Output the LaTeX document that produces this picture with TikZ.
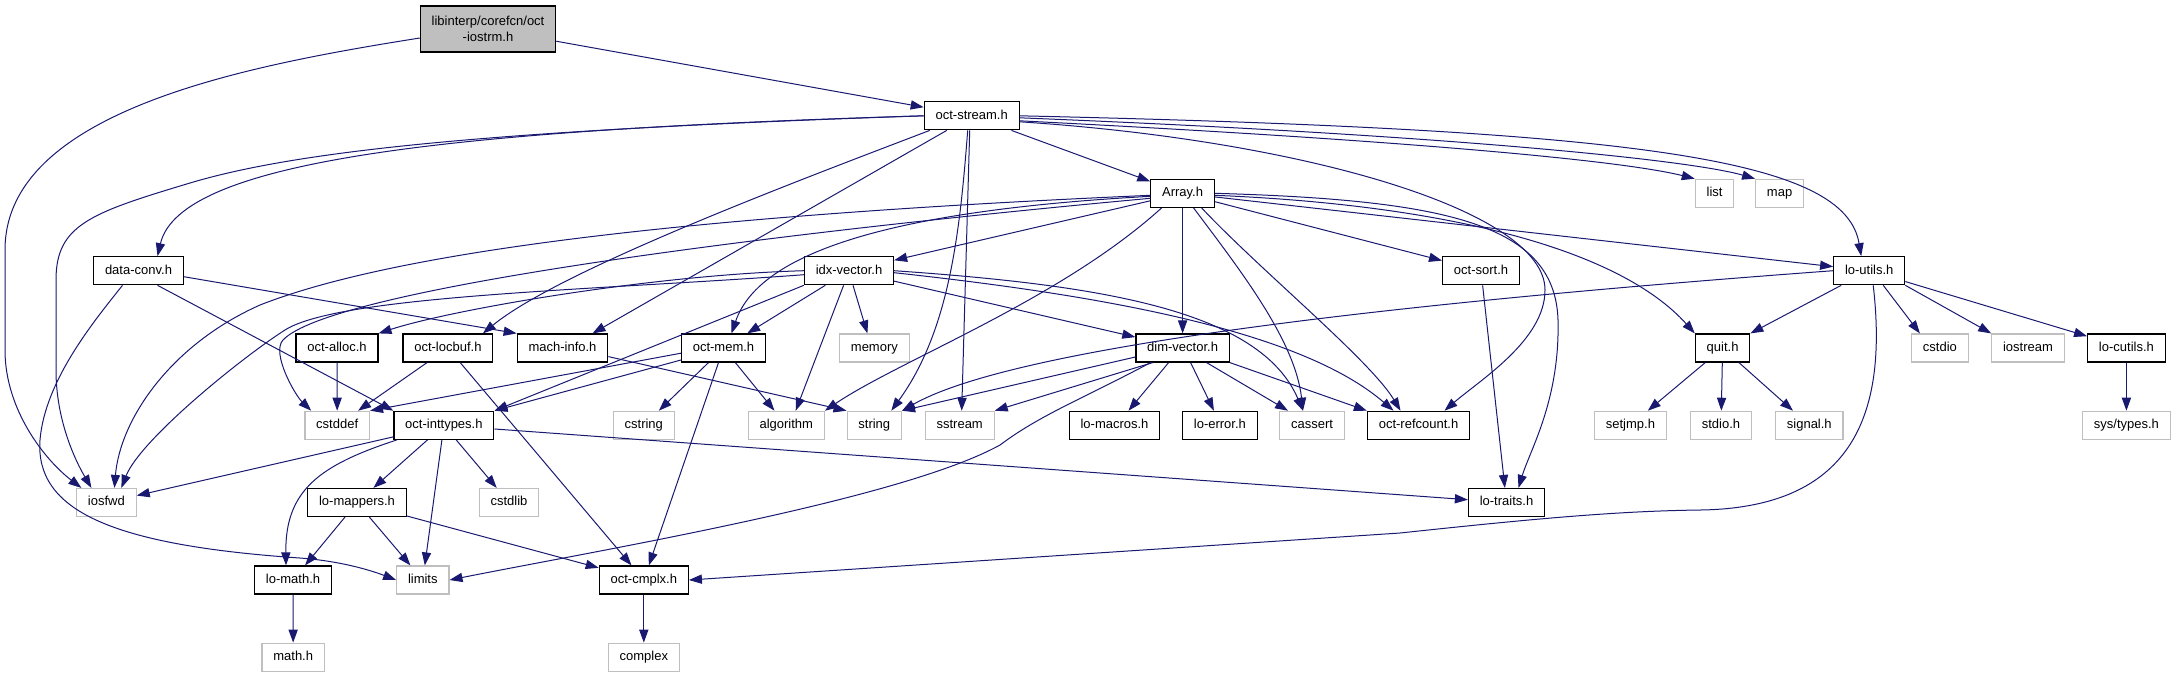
\documentclass[tikz,border=0pt]{standalone}
\usepackage{fontspec}
\setmainfont{Liberation Sans}
\usepackage{tikz}
\usetikzlibrary{arrows.meta}
\usepackage{xcolor}
\definecolor{edgeblue}{RGB}{25,25,112}
\definecolor{nodocgrey}{RGB}{191,191,191}
\tikzset{
    common/.style={rectangle, fill=white, line width=0.6pt, inner xsep=5.65pt, inner ysep=0pt, font=\fontsize{6.5}{7.8}\selectfont},
    header/.style={common, draw=black, minimum height=14pt, text height=4.8pt, text depth=1.4pt},
    sysheader/.style={header, draw=nodocgrey},
    mainheader/.style={common, draw=black, fill=nodocgrey, align=center, minimum height=23pt},
    dep/.style={->, edgeblue, line width=0.5pt},
}

\begin{document}
\begin{tikzpicture}[x=0.5pt, y=-0.5pt, >={Triangle[length=6.5pt, width=4.6pt]}]
            \useasboundingbox (0,0) rectangle (2177,677);

            \path
                (0,29) +(488,0) node[mainheader] (oct-iostrm) {libinterp/corefcn/oct\\-iostrm.h};
            \path
                (0,115.8) +(971.7,0) node[header] (oct-stream) {oct-stream.h};
            \path
                (0,193.3)
                +(1182.6,0) node[header] (array) {Array.h}
                +(1714.6,0) node[sysheader] (list) {list}
                +(1779.6,0) node[sysheader] (map) {map};
            \path
                (0,270.7)
                +(138.5,0) node[header] (data-conv) {data-conv.h}
                +(849,0) node[header] (idx-vector) {idx-vector.h}
                +(1481,0) node[header] (oct-sort) {oct-sort.h}
                +(1869.2,0) node[header] (lo-utils) {lo-utils.h};
            \path
                (0,348)
                +(337,0) node[header] (oct-alloc) {oct-alloc.h}
                +(447.9,0) node[header] (oct-locbuf) {oct-locbuf.h}
                +(562.5,0) node[header] (mach-info) {mach-info.h}
                +(723.5,0) node[header] (oct-mem) {oct-mem.h}
                +(874.4,0) node[sysheader] (memory) {memory}
                +(1182.6,0) node[header] (dim-vector) {dim-vector.h}
                +(1722.6,0) node[header] (quit) {quit.h}
                +(1939.9,0) node[sysheader] (cstdio) {cstdio}
                +(2028,0) node[sysheader] (iostream) {iostream}
                +(2126.4,0) node[header] (lo-cutils) {lo-cutils.h};
            \path
                (0,425.3)
                +(337.2,0) node[sysheader] (cstddef) {cstddef}
                +(443.9,0) node[header] (oct-inttypes) {oct-inttypes.h}
                +(643.8,0) node[sysheader] (cstring) {cstring}
                +(786.3,0) node[sysheader] (algorithm) {algorithm}
                +(874.3,0) node[sysheader] (string) {string}
                +(959.7,0) node[sysheader] (sstream) {sstream}
                +(1114.5,0) node[header] (lo-macros) {lo-macros.h}
                +(1219.9,0) node[header] (lo-error) {lo-error.h}
                +(1312,0) node[sysheader] (cassert) {cassert}
                +(1418.5,0) node[header] (oct-refcount) {oct-refcount.h}
                +(1630.4,0) node[sysheader] (setjmp) {setjmp.h}
                +(1721,0) node[sysheader] (stdio) {stdio.h}
                +(1809.3,0) node[sysheader] (signal) {signal.h}
                +(2126.4,0) node[sysheader] (sys-types) {sys/types.h};
            \path
                (0,502.5)
                +(106.4,0) node[sysheader] (iosfwd) {iosfwd}
                +(357,0) node[header] (lo-mappers) {lo-mappers.h}
                +(509,0) node[sysheader] (cstdlib) {cstdlib}
                +(1506.5,0) node[header] (lo-traits) {lo-traits.h};
            \path
                (0,580)
                +(293,0) node[header] (lo-math) {lo-math.h}
                +(422.8,0) node[sysheader] (limits) {limits}
                +(643.8,0) node[header] (oct-cmplx) {oct-cmplx.h};
            \path
                (0,657.2)
                +(293.2,0) node[sysheader] (math) {math.h}
                +(643.8,0) node[sysheader] (complex) {complex};

            \draw[dep] (oct-iostrm) -- (oct-stream);
            \draw[dep] ([yshift=-4.5pt]oct-iostrm.west) .. controls (250,65) and (5,110) .. (5,250) -- (5,350) .. controls (5,410) and (45,460) .. ([xshift=-12.5pt]iosfwd.north);

            \draw[dep] (oct-stream.west) .. controls (450,130) and (180,160) .. ([xshift=9.5pt]data-conv.north);
            \draw[dep] (oct-stream.west) .. controls (500,130) and (300,150) .. (190,183) .. controls (90,213) and (56,225) .. (56,280) -- (56,370) .. controls (56,420) and (75,460) .. ([xshift=-7.5pt]iosfwd.north);
            \draw[dep] ([xshift=-21pt]oct-stream.south) .. controls (800,180) and (560,270) .. ([xshift=17.5pt]oct-locbuf.north);
            \draw[dep] ([xshift=-12.5pt]oct-stream.south) -- ([xshift=15pt]mach-info.north);
            \draw[dep] ([xshift=-2pt]oct-stream.south) .. controls (960,230) and (950,330) .. ([xshift=8.5pt]string.north);
            \draw[dep] ([xshift=-1pt]oct-stream.south) -- ([xshift=1pt]sstream.north);
            \draw[dep] (oct-stream) -- (array);
            \draw[dep] (oct-stream.east) .. controls (1650,130) and (1845,160) .. ([xshift=-4pt]lo-utils.north);
            \draw[dep] ([yshift=-1pt]oct-stream.east) .. controls (1450,135) and (1690,160) .. (map.north west);
            \draw[dep] ([yshift=-2.5pt]oct-stream.east) .. controls (1400,140) and (1620,160) .. (list.north west);
            \draw[dep] ([yshift=-3pt]oct-stream.east) .. controls (1300,140) and (1545,210) .. (1545,290) .. controls (1545,340) and (1480,380) .. ([xshift=13pt]oct-refcount.north);

            \draw[dep] (array) -- (idx-vector);
            \draw[dep] ([yshift=-1pt]array.west) .. controls (700,215) and (400,250) .. (260,305) .. controls (170,345) and (120,420) .. ([xshift=4pt]iosfwd.north);
            \draw[dep] ([yshift=-2.5pt]array.west) .. controls (750,235) and (330,290) .. (283,340) .. controls (271,353) and (295,395) .. ([xshift=-13pt]cstddef.north);
            \draw[dep] ([yshift=-1.5pt]array.west) .. controls (900,210) and (760,250) .. ([xshift=4pt]oct-mem.north);
            \draw[dep] ([xshift=-10.5pt]array.south) .. controls (1060,300) and (900,360) .. (algorithm.north east);
            \draw[dep] (array) -- (dim-vector);
            \draw[dep] ([xshift=5.5pt]array.south) .. controls (1240,270) and (1295,340) .. ([xshift=-4.5pt]cassert.north);
            \draw[dep] ([xshift=9.5pt]array.south) .. controls (1260,270) and (1370,360) .. ([xshift=-9pt]oct-refcount.north);
            \draw[dep] (array) -- (oct-sort);
            \draw[dep] (array) -- (lo-utils);
            \draw[dep] ([yshift=-1pt]array.east) .. controls (1450,205) and (1620,250) .. (quit.north west);
            \draw[dep] (array.east) .. controls (1450,200) and (1555,225) .. (1558,320) .. controls (1560,400) and (1530,450) .. ([xshift=6pt]lo-traits.north);

            \draw[dep] ([yshift=-3pt]data-conv.east) -- (mach-info.north west);
            \draw[dep] ([xshift=9.5pt]data-conv.south) -- (oct-inttypes.north west);
            \draw[dep] ([xshift=-8pt]data-conv.south) .. controls (95,320) and (45,380) .. (40,440) .. controls (35,510) and (110,545) .. (300,558) .. controls (340,561) and (370,570) .. (limits.west);

            \draw[dep] (idx-vector.west) .. controls (650,275) and (450,310) .. (oct-alloc.north east);
            \draw[dep] ([yshift=-2pt]idx-vector.west) .. controls (600,290) and (340,295) .. (285,330) .. controls (241,358) and (140,440) .. ([xshift=7.5pt]iosfwd.north);
            \draw[dep] (idx-vector.south west) -- (oct-inttypes.north east);
            \draw[dep] (idx-vector) -- (oct-mem);
            \draw[dep] ([xshift=-2.7pt]idx-vector.south) -- ([xshift=4.7pt]algorithm.north);
            \draw[dep] ([xshift=2pt]idx-vector.south) -- ([xshift=-3.5pt]memory.north);
            \draw[dep] (idx-vector) -- (dim-vector);
            \draw[dep] (idx-vector.east) .. controls (1100,285) and (1260,310) .. ([xshift=-4.5pt]cassert.north);
            \draw[dep] ([yshift=-1pt]idx-vector.east) .. controls (1100,295) and (1300,330) .. ([xshift=-12.5pt]oct-refcount.north);

            \draw[dep] (oct-sort) -- (lo-traits);

            \draw[dep] (lo-utils.west) .. controls (1300,310) and (1000,355) .. (string.north east);
            \draw[dep] ([xshift=-14pt]lo-utils.south) -- (quit.north east);
            \draw[dep] ([xshift=2pt]lo-utils.south) .. controls (1890,430) and (1840,508) .. (1700,510) .. controls (1620,511) and (1540,518) .. (1400,533) -- (oct-cmplx.east);
            \draw[dep] ([xshift=7pt]lo-utils.south) -- ([xshift=-10pt]cstdio.north);
            \draw[dep] (lo-utils.south east) -- (iostream.north west);
            \draw[dep] (lo-utils) -- (lo-cutils);

            \draw[dep] (oct-alloc) -- (cstddef);
            \draw[dep] (oct-locbuf) -- (cstddef);
            \draw[dep] (oct-locbuf) -- (oct-cmplx);
            \draw[dep] ([yshift=-4.3pt]mach-info.east) -- (string.north west);

            \draw[dep] ([yshift=-2.6pt]oct-mem.west) -- (cstddef.north east);
            \draw[dep] ([yshift=-6pt]oct-mem.west) -- (oct-inttypes.north east);
            \draw[dep] (oct-mem) -- (cstring);
            \draw[dep] (oct-mem) -- (algorithm);
            \draw[dep] (oct-mem) -- (oct-cmplx);

            \draw[dep] ([yshift=-4.5pt]dim-vector.west) -- (string.north east);
            \draw[dep] ([xshift=-15pt]dim-vector.south) -- (sstream.north east);
            \draw[dep] ([xshift=-16pt]dim-vector.south) .. controls (1080,400) and (1040,415) .. (1000,445) .. controls (900,500) and (600,550) .. (limits.east);
            \draw[dep] ([xshift=-7pt]dim-vector.south) -- ([xshift=7pt]lo-macros.north);
            \draw[dep] ([xshift=4pt]dim-vector.south) -- ([xshift=-3pt]lo-error.north);
            \draw[dep] ([xshift=12pt]dim-vector.south) -- ([xshift=-12pt]cassert.north);
            \draw[dep] (dim-vector.south east) -- (oct-refcount.north west);

            \draw[dep] (quit) -- (setjmp);
            \draw[dep] (quit) -- (stdio);
            \draw[dep] (quit) -- (signal);
            \draw[dep] (lo-cutils) -- (sys-types);

            \draw[dep] (oct-inttypes) -- (iosfwd);
            \draw[dep] ([xshift=-23.5pt]oct-inttypes.south) .. controls (320,465) and (285,490) .. ([xshift=-3.5pt]lo-math.north);
            \draw[dep] (oct-inttypes) -- (lo-mappers);
            \draw[dep] (oct-inttypes) -- (limits);
            \draw[dep] (oct-inttypes) -- (cstdlib);
            \draw[dep] (oct-inttypes) -- (lo-traits);

            \draw[dep] (lo-mappers) -- (lo-math);
            \draw[dep] (lo-mappers) -- (limits);
            \draw[dep] (lo-mappers) -- (oct-cmplx);
            \draw[dep] (lo-math) -- (math);
            \draw[dep] (oct-cmplx) -- (complex);
\end{tikzpicture}
\end{document}
